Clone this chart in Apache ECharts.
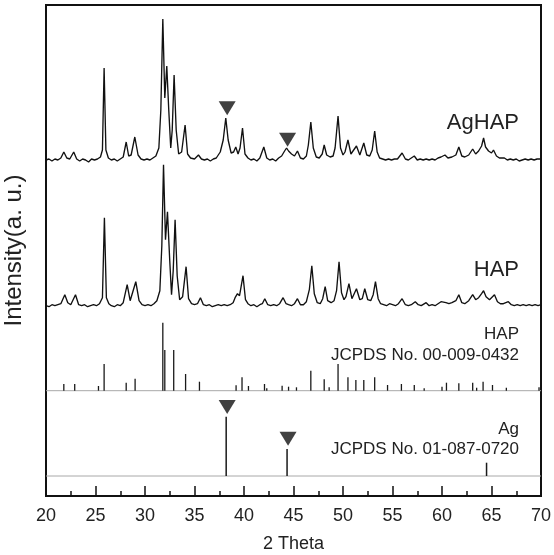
<!DOCTYPE html>
<html>
<head>
<meta charset="utf-8">
<script src="https://cdn.jsdelivr.net/npm/echarts@6/dist/echarts.min.js"></script>
<style>html,body{margin:0;padding:0;background:#fff}#c{width:554px;height:555px}</style>
</head>
<body>
<div id="c"></div>
<script>
// ---- data (2θ, intensity above own baseline, arbitrary units) ----
const xTicks = [20, 25, 30, 35, 40, 45, 50, 55, 60, 65, 70];

const agHapPattern = [[20,0],[20.3,1],[20.6,-1],[20.9,1],[21.2,0],[21.5,2],[21.8,8],[22.1,2],[22.4,1],[22.8,8],[23.1,1],[23.4,-1],[23.7,1],[24.0,0],[24.3,-2],[24.6,1],[24.9,0],[25.2,1],[25.5,3],[25.7,10],[25.87,92],[26.05,10],[26.3,2],[26.6,0],[26.9,1],[27.2,-1],[27.5,1],[27.8,3],[28.1,18],[28.35,4],[28.6,5],[28.97,23],[29.3,5],[29.6,1],[29.9,0],[30.2,1],[30.5,0],[30.8,2],[31.1,4],[31.4,12],[31.6,50],[31.8,141],[32.0,62],[32.2,94],[32.4,50],[32.6,12],[32.75,30],[32.94,85],[33.15,30],[33.4,6],[33.7,8],[34.05,35],[34.3,6],[34.6,2],[35.0,1],[35.4,5],[35.7,1],[36.0,0],[36.3,1],[36.6,-1],[36.9,1],[37.2,2],[37.6,8],[37.9,20],[38.16,42],[38.4,20],[38.7,7],[38.95,8],[39.17,13],[39.4,6],[39.6,12],[39.85,32],[40.1,6],[40.4,2],[40.7,0],[41.0,1],[41.3,-1],[41.6,2],[42.0,13],[42.3,2],[42.6,0],[42.9,1],[43.2,-1],[43.5,2],[43.8,4],[44.1,9],[44.3,12],[44.5,9],[44.8,6],[45.1,4],[45.4,9],[45.7,2],[46.0,1],[46.3,4],[46.5,15],[46.75,38],[47.0,12],[47.3,3],[47.6,2],[47.9,6],[48.1,15],[48.35,5],[48.7,3],[49.0,4],[49.2,12],[49.5,44],[49.75,12],[50.0,5],[50.2,8],[50.5,20],[50.8,6],[51.0,5],[51.36,14],[51.7,5],[51.9,6],[52.1,17],[52.4,5],[52.7,4],[52.95,10],[53.2,29],[53.45,8],[53.7,2],[54.0,1],[54.3,0],[54.6,1],[54.9,0],[55.2,1],[55.5,1],[55.97,7],[56.3,1],[56.6,0],[57.2,4],[57.5,0],[57.8,1],[58.1,0],[58.4,1],[58.7,0],[59.0,1],[59.3,0],[59.6,2],[59.9,3],[60.3,5],[60.6,2],[61.0,3],[61.4,5],[61.7,13],[62.0,4],[62.3,3],[62.7,5],[63.1,11],[63.4,6],[63.7,9],[64.0,14],[64.2,22],[64.4,13],[64.7,9],[65.0,7],[65.2,10],[65.5,4],[65.8,2],[66.3,2],[66.6,0],[66.9,1],[67.2,0],[67.5,1],[67.8,-1],[68.1,0],[68.4,1],[68.7,0],[69.0,1],[69.3,0],[69.6,1],[70,1]];

const hapPattern = [[20,0],[20.3,-1],[20.6,1],[20.9,0],[21.2,1],[21.5,2],[21.9,11],[22.2,3],[22.5,1],[22.98,11],[23.3,1],[23.6,0],[23.9,1],[24.2,-1],[24.5,0],[24.8,1],[25.1,0],[25.4,2],[25.7,8],[25.9,88],[26.1,8],[26.35,2],[26.6,0],[26.9,-1],[27.2,1],[27.5,0],[27.8,3],[28.2,21],[28.5,5],[28.7,7],[29.07,24],[29.4,5],[29.7,1],[30.0,0],[30.3,1],[30.6,0],[30.9,2],[31.2,5],[31.5,15],[31.7,60],[31.87,141],[32.07,66],[32.27,94],[32.5,45],[32.68,11],[32.85,35],[33.04,86],[33.25,30],[33.5,6],[33.8,9],[34.15,39],[34.4,7],[34.7,2],[35.0,1],[35.3,2],[35.6,8],[35.9,1],[36.2,0],[36.5,1],[36.8,-1],[37.1,0],[37.4,1],[37.7,0],[38.0,1],[38.3,0],[38.6,1],[38.9,3],[39.1,8],[39.34,12],[39.55,10],[39.9,30],[40.15,6],[40.4,2],[40.7,0],[41.0,1],[41.3,-1],[41.6,1],[41.85,2],[42.1,7],[42.4,1],[42.7,0],[43.0,1],[43.3,0],[43.6,2],[43.95,8],[44.25,2],[44.5,1],[44.8,0],[45.1,2],[45.4,7],[45.7,1],[46.0,1],[46.3,4],[46.6,16],[46.85,40],[47.1,12],[47.4,3],[47.7,2],[47.95,7],[48.2,19],[48.45,5],[48.8,3],[49.1,5],[49.35,15],[49.6,44],[49.85,13],[50.1,6],[50.3,9],[50.6,22],[50.9,7],[51.1,6],[51.36,17],[51.7,6],[51.95,7],[52.2,17],[52.5,6],[52.8,5],[53.05,11],[53.28,24],[53.55,7],[53.8,2],[54.1,1],[54.4,0],[54.7,2],[55.0,1],[55.3,0],[55.6,2],[55.97,7],[56.3,1],[56.6,0],[56.9,1],[57.3,4],[57.6,1],[57.9,0],[58.4,3],[58.7,0],[59.0,1],[59.3,0],[59.6,2],[59.9,4],[60.1,6],[60.4,3],[60.7,2],[61.0,3],[61.4,5],[61.7,11],[62.0,3],[62.3,2],[62.7,5],[63.1,11],[63.4,6],[63.7,8],[64.0,12],[64.2,15],[64.45,9],[64.8,6],[65.0,7],[65.3,11],[65.6,4],[65.9,2],[66.2,2],[66.7,4],[67.0,1],[67.3,0],[67.6,1],[67.9,0],[68.2,1],[68.5,0],[68.8,1],[69.1,0],[69.4,1],[69.7,0],[70,1]];

const hapRefSticks = [[21.8,6.7],[22.9,6.7],[25.3,4.7],[25.87,26.7],[28.1,8],[29.0,12],[31.8,68],[32.0,40.7],[32.9,40.7],[34.1,16.7],[35.5,9],[39.2,5.4],[39.8,13.4],[40.45,4.7],[42.07,6.7],[42.3,2.4],[43.85,5],[44.5,4],[45.3,3.4],[46.75,20],[48.1,11.4],[48.6,3.4],[49.5,26.7],[50.5,13.4],[51.3,10.7],[52.1,10.7],[53.2,13.4],[54.5,5.7],[55.9,6.7],[57.2,5.7],[58.2,2.4],[60.0,4],[60.45,8],[61.7,7.4],[63.1,8],[63.5,3],[64.15,9],[65.1,5.7],[66.5,3],[69.8,3.4]];

const agRefSticks = [[38.2,59.3],[44.35,27],[64.5,13.3]];

// Ag peak markers (position, height above own baseline)
const agHapMarkers = [[38.3,51.7],[44.4,20.3]];
const agRefMarkers = [[38.3,69],[44.45,37.2]];

const labels = {
  agHap: 'AgHAP', hap: 'HAP',
  hapRef: 'HAP', hapRefCard: 'JCPDS No. 00-009-0432',
  agRef: 'Ag', agRefCard: 'JCPDS No. 01-087-0720'
};

// ---- layout constants ----
const Y_MAX = 491;
const OFF_AGHAP = 336, OFF_HAP = 190.3, OFF_HAPREF = 105.3, OFF_AGREF = 20;
const FONT = '"Liberation Sans", Arial, Helvetica, sans-serif';

const shift = (arr, off) => arr.map(p => [p[0], p[1] + off]);

function stickSeries(data, base, width) {
  return {
    type: 'custom', data: data, silent: true, z: 3,
    renderItem: function (params, api) {
      const x = api.value(0), h = api.value(1);
      const p0 = api.coord([x, base]);
      const p1 = api.coord([x, base + h]);
      return { type: 'line', shape: { x1: p0[0], y1: p0[1], x2: p1[0], y2: p1[1] },
        style: { stroke: '#1a1a1a', lineWidth: width } };
    }
  };
}
function baseLine(base) {
  return { type: 'line', data: [[xTicks[0], base], [xTicks[xTicks.length - 1], base]],
    showSymbol: false, silent: true, z: 2,
    lineStyle: { color: '#a8a8a8', width: 1 } };
}
function markers(data, base) {
  return { type: 'scatter', data: shift(data, base), symbol: 'triangle', symbolRotate: 180,
    symbolSize: [17, 14], itemStyle: { color: '#111' }, silent: true, z: 5 };
}

const chart = echarts.init(document.getElementById('c'), null, { renderer: 'canvas' });
chart.setOption({
  animation: false,
  backgroundColor: '#fff',
  grid: { left: 46, right: 13, top: 5, bottom: 59, show: true, borderColor: '#111', borderWidth: 2,
    containLabel: false, outerBoundsMode: 'none' },
  xAxis: {
    type: 'value', min: xTicks[0], max: xTicks[xTicks.length - 1], interval: 5,
    name: '2 Theta', nameLocation: 'middle', nameGap: 39,
    nameTextStyle: { fontFamily: FONT, fontSize: 18, color: '#222' },
    axisLine: { show: true, lineStyle: { color: '#111', width: 2 } },
    axisTick: { show: true, inside: true, length: 10, lineStyle: { color: '#111', width: 1.5 } },
    minorTick: { show: true, splitNumber: 2, length: 5, lineStyle: { color: '#111', width: 1.5 } },
    axisLabel: { fontFamily: FONT, fontSize: 18, color: '#222', margin: 11 },
    splitLine: { show: false }
  },
  yAxis: {
    type: 'value', min: 0, max: Y_MAX,
    name: 'Intensity(a. u.)', nameLocation: 'middle', nameGap: 20,
    nameTextStyle: { fontFamily: FONT, fontSize: 24, color: '#222' },
    axisLine: { show: true, lineStyle: { color: '#111', width: 2 } },
    axisTick: { show: false }, axisLabel: { show: false }, splitLine: { show: false }
  },
  series: [
    { type: 'line', data: shift(agHapPattern, OFF_AGHAP), showSymbol: false, z: 4,
      lineStyle: { color: '#111', width: 1.35 } },
    { type: 'line', data: shift(hapPattern, OFF_HAP), showSymbol: false, z: 4,
      lineStyle: { color: '#111', width: 1.35 } },
    baseLine(OFF_HAPREF),
    baseLine(OFF_AGREF),
    stickSeries(hapRefSticks, OFF_HAPREF, 1.3),
    stickSeries(agRefSticks, OFF_AGREF, 1.5),
    markers(agHapMarkers, OFF_AGHAP),
    markers(agRefMarkers, OFF_AGREF)
  ],
  graphic: [
    { type: 'text', right: 35, top: 112, style: { text: labels.agHap, font: '22px ' + FONT, fill: '#222' } },
    { type: 'text', right: 35, top: 259, style: { text: labels.hap, font: '22px ' + FONT, fill: '#222' } },
    { type: 'text', right: 35, top: 326, style: { text: labels.hapRef, font: '17px ' + FONT, fill: '#222' } },
    { type: 'text', right: 35, top: 347, style: { text: labels.hapRefCard, font: '17px ' + FONT, fill: '#222' } },
    { type: 'text', right: 35, top: 421, style: { text: labels.agRef, font: '17px ' + FONT, fill: '#222' } },
    { type: 'text', right: 35, top: 441, style: { text: labels.agRefCard, font: '17px ' + FONT, fill: '#222' } }
  ]
});
</script>
</body>
</html>
